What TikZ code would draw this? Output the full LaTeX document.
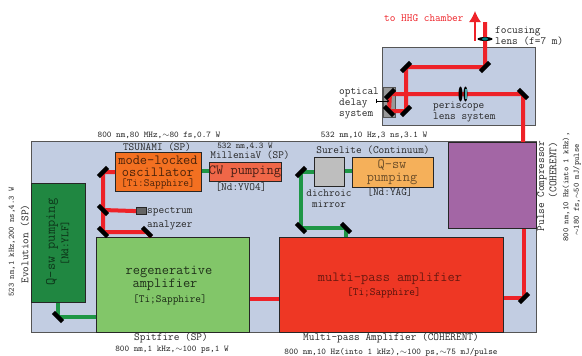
\documentclass[tikz,border=0pt]{standalone}
\usetikzlibrary{arrows.meta}
\definecolor{panel}{RGB}{194,205,226}
\definecolor{edge}{RGB}{85,85,85}
\definecolor{beamred}{RGB}{238,34,40}
\definecolor{beamgreen}{RGB}{30,150,70}
\definecolor{oscfill}{RGB}{243,112,33}
\definecolor{cwfill}{RGB}{240,103,72}
\definecolor{qgreen}{RGB}{32,135,65}
\definecolor{regenfill}{RGB}{130,198,105}
\definecolor{multifill}{RGB}{238,55,36}
\definecolor{compfill}{RGB}{163,102,165}
\definecolor{qorange}{RGB}{245,176,90}
\definecolor{dichfill}{RGB}{190,190,190}
\definecolor{anafill}{RGB}{100,100,100}
\newcommand{\fa}{\fontsize{14}{11}\selectfont\ttfamily}
\newcommand{\fb}{\fontsize{11}{11}\selectfont\ttfamily}
\newcommand{\fc}{\fontsize{8.8}{10}\selectfont\ttfamily}
\newcommand{\fd}{\fontsize{8.2}{10}\selectfont\ttfamily}
\tikzset{
 panelbox/.style={fill=panel,draw=edge,line width=1.3pt},
 unitbox/.style={draw=black!85,line width=1.2pt,inner sep=0pt,anchor=north west,align=center},
 mirror/.style={line width=4.4pt,black,line cap=butt},
 redbeam/.style={line width=4pt,beamred},
 greenbeam/.style={line width=3.4pt,beamgreen},
 txt/.style={inner sep=0pt,align=center,text=black!85},
}
\begin{document}
\begin{tikzpicture}[x=1pt,y=-1pt]
\useasboundingbox (0,0) rectangle (582,356);
% panels
\node[panelbox,minimum width=153pt,minimum height=78pt,inner sep=0pt,anchor=north west] (top) at (382,47) {};
\node[panelbox,minimum width=505pt,minimum height=191pt,inner sep=0pt,anchor=north west] (main) at (31,141) {};
% beam vertices
\coordinate (m1) at (103,172); \coordinate (m2) at (103,210); \coordinate (m3) at (103,232); \coordinate (m4) at (147,232);
\coordinate (g1) at (58,317);
\coordinate (g2) at (301,172); \coordinate (g3) at (301,228); \coordinate (g4) at (346,228);
\coordinate (m5) at (524,298);
\coordinate (m6) at (523,94); \coordinate (m7) at (390,94); \coordinate (m8) at (389,111); \coordinate (m9) at (406,111);
\coordinate (m10) at (406,67); \coordinate (m11) at (485,67); \coordinate (beamend) at (485,22);
% units
\node[unitbox,fill=oscfill,minimum width=86pt,minimum height=39pt] (osc) at (115,152) {};
\node[unitbox,fill=cwfill,minimum width=72pt,minimum height=19pt] (cw) at (209,162) {};
\node[unitbox,fill=qgreen,minimum width=54pt,minimum height=119pt] (qyl) at (31,183) {};
\node[unitbox,fill=regenfill,minimum width=153pt,minimum height=95pt] (regen) at (96,237) {};
\node[unitbox,fill=multifill,minimum width=224pt,minimum height=95pt] (multi) at (279,237) {};
\node[unitbox,fill=compfill,minimum width=88pt,minimum height=86pt] (comp) at (448,142) {};
\node[unitbox,fill=dichfill,minimum width=30pt,minimum height=29pt] (dich) at (314,157) {};
\node[unitbox,fill=qorange,minimum width=81pt,minimum height=30pt] (qor) at (352,157) {};
\node[unitbox,fill=anafill,minimum width=10pt,minimum height=7pt] (ana) at (136,207) {};
\node[draw=edge,fill=dichfill!80!black,line width=1pt,minimum width=12pt,minimum height=30pt,inner sep=0pt,anchor=north west] (delay) at (383,87) {};
% beams red
\draw[redbeam,line join=round] (osc.west |- m1) -- (m1) -- (m3) -- (m4) -- ([xshift=4pt]m4 |- regen.north);
\draw[redbeam] (m2) -- (ana.west);
\draw[redbeam] (regen.east |- 0,299) -- (multi.west |- 0,299);
\draw[redbeam,line join=round] (multi.east |- m5) -- (m5) -- (comp.south -| m5);
\draw[redbeam,line join=round] (comp.north -| m6) -- (m6) -- (m7) -- (m8) -- (m9) -- (m10) -- (m11) -- (beamend);
% beams green
\draw[greenbeam] (osc.east |- 0,171) -- (cw.west |- 0,171);
\draw[greenbeam] (dich.east |- 0,171) -- (qor.west |- 0,171);
\draw[greenbeam,line join=round] (dich.west |- 0,172) -- (g2) -- (g3) -- (g4) -- (g4 |- multi.north);
\draw[greenbeam,line join=round] (qyl.south -| g1) -- (g1) -- (regen.west |- g1);
% mirrors
\foreach \c/\a in {m1/45,m2/-45,m3/-45,m4/-45,g2/45,g3/-45,g4/-45,g1/-45,m5/45,m6/-45,m7/45,m8/-45,m9/45,m10/45,m11/45}{
 \draw[mirror] ([shift={(\a:6.5pt)}]\c) -- ([shift={(\a+180:6.5pt)}]\c);
}
% lenses
\coordinate (fl) at (485,39); \coordinate (pl) at (463,94);
\fill[black] (fl) ellipse (7.5pt and 2pt);
\fill[teal] (fl) ellipse (3pt and 1.6pt);
\foreach \d in {-2.5,2.5}{ \fill[black] ([xshift=\d pt]pl) ellipse (2pt and 7.5pt); }
\fill[teal!70] (pl) ++(1.5,-5) rectangle ++(2.5,10);
% delay arrow
\draw[line width=.9pt,black,{Bar[width=4pt]}-{>[length=2pt,width=3pt]}] (376,101) -- (389,101);
% HHG arrow
\coordinate (hhgtail) at (475,41); \coordinate (hhgtip) at (475,11);
\draw[beamred,line width=1.3pt,-{Latex[length=11pt,width=12pt]}] (hhgtail) -- (hhgtip);
% text in units
\node[txt,text=black!70!oscfill,font=\fa] (t1) at (158,160.500) {mode-locked};
\node[txt,text=black!70!oscfill,font=\fa] (t1b) at (158,172.500) {oscillator};
\node[txt,text=black!70!oscfill,font=\fb] (t2) at (158,184) {[Ti:Sapphire]};
\node[txt,text=black!70!cwfill,font=\fa] (t3) at (245,172) {CW pumping};
\node[txt,font=\fb] (t4) at (241,187.500) {[Nd:YVO4]};
\node[txt,text=black!60!qgreen,font=\fa,rotate=90] (t5) at (52,242) {Q-sw pumping};
\node[txt,text=black!70!qgreen,font=\fb,rotate=90] (t6) at (65,243) {[Nd:YLF]};
\node[txt,text=black!75!regenfill,font=\fa] (t7) at (169,272) {regenerative};
\node[txt,text=black!75!regenfill,font=\fa] (t7b) at (165,285) {amplifier};
\node[txt,text=black!80!regenfill,font=\fb] (t8) at (170,300) {[Ti;Sapphire]};
\node[txt,text=black!55!multifill,font=\fa] (t9) at (390,279) {multi-pass amplifier};
\node[txt,text=black!65!multifill,font=\fb] (t10) at (384,293) {[Ti;Sapphire]};
\node[txt,text=black!55!qorange,font=\fa] (t11) at (392,165) {Q-sw};
\node[txt,text=black!55!qorange,font=\fa] (t11b) at (392,179) {pumping};
\node[txt,font=\fb] (t12) at (390,192) {[Nd:YAG]};
% outer labels
\node[txt,font=\fc] (l1) at (159,135) {800 nm,80 MHz,$\sim$80 fs,0.7 W};
\node[txt,font=\fb] (l2) at (157,147.500) {TSUNAMI (SP)};
\node[txt,font=\fc] (l3) at (245,146) {532 nm,4.3 W};
\node[txt,font=\fb] (l4) at (250,155) {MilleniaV (SP)};
\node[txt,font=\fc] (l5) at (374,135) {532 nm,10 Hz,3 ns,3.1 W};
\node[txt,font=\fb] (l6) at (373,150) {Surelite (Continuum)};
\node[txt,font=\fb,anchor=west] (l7) at (147,212) {spectrum};
\node[txt,font=\fb,anchor=west] (l7b) at (147,225) {analyzer};
\node[txt,font=\fb] (l8) at (329,198.500) {dichroic\\mirror};
\node[txt,font=\fd,rotate=90] (l9) at (12,242) {523 nm,1 kHz,200 ns,4.3 W};
\node[txt,font=\fb,rotate=90] (l10) at (25,244) {Evolution (SP)};
\node[txt,font=\fb] (l11) at (171,338) {Spitfire (SP)};
\node[txt,font=\fc] (l12) at (172,350) {800 nm,1 kHz,$\sim$100 ps,1 W};
\node[txt,font=\fb] (l13) at (391,338) {Multi-pass Amplifier (COHERENT)};
\node[txt,font=\fc] (l14) at (391,352) {800 nm,10 Hz(into 1 kHz),$\sim$100 ps,$\sim$75 mJ/pulse};
\node[txt,font=\fb,rotate=90] (l15) at (542,186) {Pulse Compressor};
\node[txt,font=\fb,rotate=90] (l16) at (553,170) {(COHERENT)};
\node[txt,font=\fd,rotate=90] (l17) at (566,187) {800 nm,10 Hz(into 1 kHz),};
\node[txt,font=\fd,rotate=90] (l18) at (577,190) {$\sim$180 fs,$\sim$50 mJ/pulse};
\node[txt,font=\fb,text=beamred,anchor=west] (l19) at (384,18) {to HHG chamber};
\node[txt,font=\fb,anchor=west,align=left] (l20) at (495,36.500) {focusing\\lens (f=7 m)};
\node[txt,font=\fb,anchor=west,align=left] (l21) at (339,103) {optical\\delay\\system};
\node[txt,font=\fb,anchor=west,align=left] (l22) at (433,111.500) {periscope\\lens system};
\end{tikzpicture}
\end{document}
